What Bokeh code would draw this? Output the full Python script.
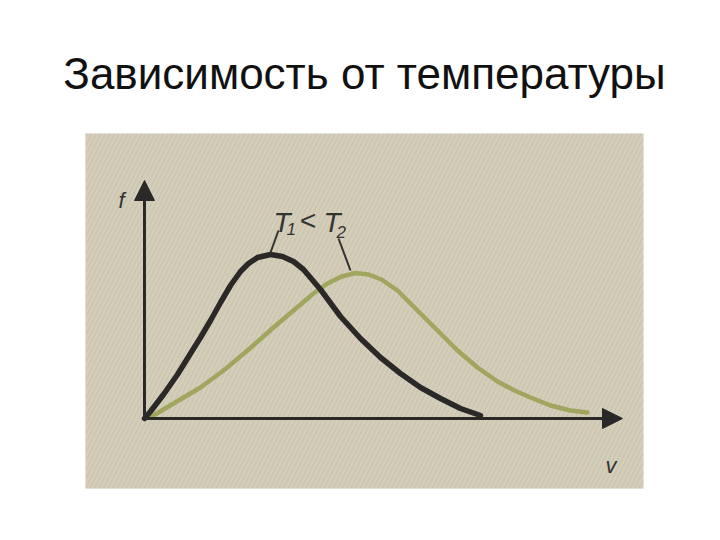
from bokeh.plotting import figure
from bokeh.models import Range1d, Arrow, NormalHead, BoxAnnotation
from bokeh.core.properties import value
from bokeh.embed import file_html
from bokeh.resources import INLINE

TITLE = "Зависимость от температуры"

# Maxwell distribution curves (v, f) in arbitrary units
v_t1 = [0.0, 0.12, 0.38, 0.66, 0.92, 1.12, 1.32, 1.52, 1.72, 1.92, 2.08, 2.26, 2.52, 2.76, 2.98, 3.18,
        3.52, 3.92, 4.32, 4.72, 5.12, 5.52, 5.92, 6.32, 6.72]
f_t1 = [0.0, 0.14, 0.48, 0.88, 1.30, 1.62, 1.96, 2.32, 2.66, 2.94, 3.10, 3.22, 3.28, 3.24, 3.14, 2.98,
        2.58, 2.04, 1.60, 1.22, 0.90, 0.62, 0.40, 0.20, 0.06]

v_t2 = [0.0, 0.18, 0.58, 1.12, 1.58, 2.06, 2.58, 2.98, 3.38, 3.66, 3.94, 4.22, 4.48, 4.74, 5.06, 5.46,
        5.86, 6.26, 6.66, 7.06, 7.40, 7.72, 8.12, 8.52, 8.86]
f_t2 = [0.0, 0.06, 0.30, 0.62, 0.96, 1.36, 1.82, 2.16, 2.50, 2.70, 2.84, 2.91, 2.88, 2.78, 2.56, 2.16,
        1.76, 1.36, 1.02, 0.74, 0.56, 0.42, 0.26, 0.16, 0.12]

AXIS_V_MAX = 9.56
AXIS_F_MAX = 4.76

p = figure(width=712, height=532, output_backend="svg", toolbar_location=None,
           x_axis_location=None, y_axis_location=None,
           x_range=Range1d(-1.18, 9.98), y_range=Range1d(-1.4, 5.7),
           min_border_left=85, min_border_right=69, min_border_top=133, min_border_bottom=44,
           title=TITLE)
p.grid.visible = False
p.outline_line_color = None
p.background_fill_color = "#c9c2ad"
p.border_fill_color = "white"

p.title.align = "center"
p.title.offset = -4
p.title.text_font = "Liberation Sans"
p.title.text_font_size = "44px"
p.title.text_font_style = "normal"
p.title.text_color = "#111111"
p.title.standoff = 71

# subtle scan texture (drawn beneath the curves)
p.add_layout(BoxAnnotation(level="underlay", fill_alpha=0, line_alpha=0,
                           hatch_pattern="right_diagonal_line",
                           hatch_color="#ddd7c6", hatch_alpha=0.5, hatch_scale=9, hatch_weight=3))

ink = "#2b2828"
# axes with arrows
p.add_layout(Arrow(x_start=0, y_start=0, x_end=AXIS_V_MAX, y_end=0, line_color=ink, line_width=3,
                   end=NormalHead(size=20, fill_color=ink, line_color=ink)))
p.add_layout(Arrow(x_start=0, y_start=0, x_end=0, y_end=AXIS_F_MAX, line_color=ink, line_width=3,
                   end=NormalHead(size=20, fill_color=ink, line_color=ink)))

p.line(v_t2, f_t2, line_color="#a0a65e", line_width=4.5, line_join="round", line_cap="round")
p.line(v_t1, f_t1, line_color=ink, line_width=5.5, line_join="round", line_cap="round")

# leader lines for labels
p.segment(x0=[2.68, 3.88], y0=[3.76, 3.60], x1=[2.52, 4.12], y1=[3.32, 2.96],
          line_color="#333333", line_width=2)

lbl = dict(text_font=value("Liberation Sans"), text_font_style="italic", text_color="#333333",
           text_baseline="alphabetic")
p.text(x=[2.58, 3.58], y=[3.92, 3.92], text=["T", "T"], text_font_size="28px", **lbl)
p.text(x=[2.84, 3.84], y=[3.80, 3.74], text=["1", "2"], text_font_size="17px", **lbl)
p.text(x=[3.10], y=[3.96], text=["<"], text_font_size="28px", **lbl)
p.text(x=[-0.52], y=[4.36], text=["f"], text_font_size="22px", **lbl)
p.text(x=[9.22], y=[-0.94], text=["v"], text_font_size="22px", **lbl)

open("out.html", "w").write(file_html(p, INLINE))
